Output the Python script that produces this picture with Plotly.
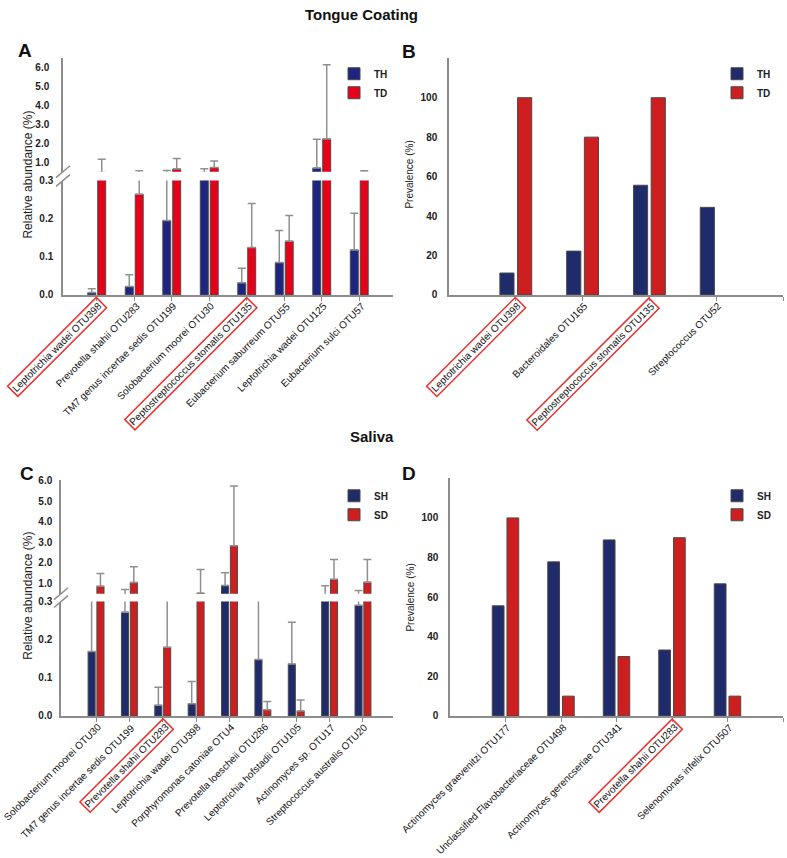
import plotly.graph_objects as go

W, H = 787, 858
FONT = "Liberation Sans, Arial, sans-serif"

# ---- A: tongue coating, relative abundance (%) ----
tongue_abund_otus = [
    "Leptotrichia wadei OTU398", "Prevotella shahii OTU283", "TM7 genus incertae sedis OTU199",
    "Solobacterium moorei OTU30", "Peptostreptococcus stomatis OTU135", "Eubacterium saburreum OTU55",
    "Leptotrichia wadei OTU125", "Eubacterium sulci OTU57",
]
th_abund = [0.006, 0.022, 0.195, 0.45, 0.032, 0.085, 0.69, 0.118]
th_abund_err = [0.010, 0.031, 0.36, 0.20, 0.038, 0.084, 1.53, 0.096]
td_abund = [0.45, 0.264, 0.64, 0.72, 0.124, 0.141, 2.23, 0.45]
td_abund_err = [0.70, 0.29, 0.56, 0.35, 0.116, 0.067, 3.92, 0.10]
tongue_abund_marked = [0, 4]

# ---- B: tongue coating, prevalence (%) ----
tongue_prev_otus = ["Leptotrichia wadei OTU398", "Bacteroidales OTU165",
                    "Peptostreptococcus stomatis OTU135", "Streptococcus OTU52"]
th_prev = [11.1, 22.2, 55.6, 44.4]
td_prev = [100, 80, 100, 0]
tongue_prev_marked = [0, 2]

# ---- C: saliva, relative abundance (%) ----
saliva_abund_otus = [
    "Solobacterium moorei OTU30", "TM7 genus incertae sedis OTU199", "Prevotella shahii OTU283",
    "Leptotrichia wadei OTU398", "Porphyromonas catoniae OTU4", "Prevotella loescheii OTU286",
    "Leptotrichia hofstadii OTU105", "Actinomyces sp. OTU17", "Streptococcus australis OTU20",
]
sh_abund = [0.169, 0.272, 0.028, 0.032, 0.90, 0.148, 0.136, 0.45, 0.29]
sh_abund_err = [0.23, 0.43, 0.047, 0.058, 0.62, 0.25, 0.11, 0.44, 0.36]
sd_abund = [0.86, 1.05, 0.18, 0.52, 2.84, 0.016, 0.013, 1.20, 1.06]
sd_abund_err = [0.62, 0.76, 0.22, 1.16, 2.91, 0.022, 0.029, 0.97, 1.11]
saliva_abund_marked = [2]

# ---- D: saliva, prevalence (%) ----
saliva_prev_otus = ["Actinomyces graevenitzi OTU177", "Unclassified Flavobacteriaceae OTU498",
                    "Actinomyces gerencseriae OTU341", "Prevotella shahii OTU283",
                    "Selenomonas infelix OTU507"]
sh_prev = [55.6, 77.8, 88.9, 33.3, 66.7]
sd_prev = [100, 10, 30, 90, 10]
saliva_prev_marked = [3]

low_ticks = [0, 0.1, 0.2, 0.3]
up_ticks = [1, 2, 3, 4, 5, 6]
prev_ticks = [0, 20, 40, 60, 80, 100]


def px(p):
    return p / W


def py(p):
    return 1 - p / H


AXIS_GREY = "#8c8c8c"
ERR_GREY = "#8f8f8f"
OUTLINE = "#4a4a4a"
A_BLUE, A_RED = "#1d2580", "#e60018"
NAVY, RED = "#1f2b6b", "#cd1f1f"


def bar(x, y, err, name, color, xa, ya, legend, show):
    kw = dict(
        x=list(range(len(x))), y=y, name=name, marker_color=color,
        # no outline on empty bars
        marker_line=dict(color=OUTLINE, width=[1 if v else 0 for v in y]),
        xaxis=xa, yaxis=ya, legend=legend, showlegend=show, hoverinfo="skip",
    )
    if err is not None:
        kw["error_y"] = dict(type="data", symmetric=False, array=err, arrayminus=[0] * len(err),
                             color=ERR_GREY, thickness=1.5, width=4)
    return go.Bar(**kw)


fig = go.Figure()
# A (lower + upper segments)
for ya, show in (("y", True), ("y2", False)):
    fig.add_trace(bar(tongue_abund_otus, th_abund, th_abund_err, "TH", A_BLUE, "x", ya, "legend", show))
    fig.add_trace(bar(tongue_abund_otus, td_abund, td_abund_err, "TD", A_RED, "x", ya, "legend", show))
# B
fig.add_trace(bar(tongue_prev_otus, th_prev, None, "TH", NAVY, "x2", "y3", "legend2", True))
fig.add_trace(bar(tongue_prev_otus, td_prev, None, "TD", RED, "x2", "y3", "legend2", True))
# C
for ya, show in (("y4", True), ("y5", False)):
    fig.add_trace(bar(saliva_abund_otus, sh_abund, sh_abund_err, "SH", NAVY, "x3", ya, "legend3", show))
    fig.add_trace(bar(saliva_abund_otus, sd_abund, sd_abund_err, "SD", RED, "x3", ya, "legend3", show))
# D
fig.add_trace(bar(saliva_prev_otus, sh_prev, None, "SH", NAVY, "x4", "y6", "legend4", True))
fig.add_trace(bar(saliva_prev_otus, sd_prev, None, "SD", RED, "x4", "y6", "legend4", True))

tick_font = dict(family=FONT, size=10, color="#222", weight="bold")


def xax(left, right, rng, anchor):
    return dict(domain=[px(left), px(right)], range=rng, anchor=anchor, showline=True,
                linecolor=AXIS_GREY, linewidth=1.5, ticks="outside", ticklen=4, tickwidth=1.2,
                tickcolor=AXIS_GREY, tickvals=list(range(12)), showticklabels=False,
                showgrid=False, zeroline=False, fixedrange=True)


def yax(bottom, top, rng, anchor, vals, text, standoff):
    return dict(domain=[py(bottom), py(top)], range=rng, anchor=anchor, showline=True,
                linecolor=AXIS_GREY, linewidth=1.5, ticks="", tickvals=vals, ticktext=text,
                tickfont=tick_font, ticklabelstandoff=standoff,
                showgrid=False, zeroline=False, fixedrange=True)


fig.update_layout(
    xaxis=xax(63, 393, [-0.9, 7.9], "y"),
    yaxis=yax(293, 177, [0, 0.3], "x", low_ticks, [f"{v:.1f}" for v in low_ticks], 6),
    yaxis2=yax(168, 53, [0.5, 6.5], "x", up_ticks, [f"{v:.1f}" for v in up_ticks], 10),
    xaxis2=xax(449, 783, [-1, 4], "y3"),
    yaxis3=yax(293, 53, [0, 120], "x2", prev_ticks, [str(v) for v in prev_ticks], 8),
    xaxis3=xax(61, 393, [-1.05, 8.9], "y4"),
    yaxis4=yax(720, 604, [0, 0.3], "x3", low_ticks, [f"{v:.1f}" for v in low_ticks], 5),
    yaxis5=yax(596, 481, [0.5, 6.03], "x3", up_ticks, [f"{v:.1f}" for v in up_ticks], 5),
    xaxis4=xax(450, 783, [-1, 5], "y6"),
    yaxis6=yax(720, 479, [0, 120], "x4", prev_ticks, [str(v) for v in prev_ticks], 8),
)

legend_style = dict(xanchor="left", yanchor="top", bgcolor="rgba(0,0,0,0)", itemwidth=30,
                    font=dict(family=FONT, size=10, color="#222", weight="bold"), tracegroupgap=0)
fig.update_layout(
    legend=dict(x=px(334), y=py(54), **legend_style),
    legend2=dict(x=px(717), y=py(54), **legend_style),
    legend3=dict(x=px(334), y=py(482), **legend_style),
    legend4=dict(x=px(717), y=py(482), **legend_style),
)

annotations = []


def add_labels(names, marked, xref, axis_bottom):
    for i, name in enumerate(names):
        annotations.append(dict(
            text=name, x=i, xref=xref, y=py(axis_bottom), yref="paper",
            xanchor="right", yanchor="top", textangle=-45, showarrow=False,
            xshift=11, yshift=-2, borderpad=1, borderwidth=1.5,
            bordercolor="#e8312f" if i in marked else "rgba(0,0,0,0)",
            font=dict(family=FONT, size=10, color="#111"),
        ))


add_labels(tongue_abund_otus, tongue_abund_marked, "x", 293)
add_labels(tongue_prev_otus, tongue_prev_marked, "x2", 293)
add_labels(saliva_abund_otus, saliva_abund_marked, "x3", 720)
add_labels(saliva_prev_otus, saliva_prev_marked, "x4", 720)

# section titles, panel letters, axis titles
for text, x, y, size in (("Tongue Coating", 361, 9, 15), ("Saliva", 372, 437, 15),
                         ("A", 25, 45, 19), ("B", 409, 46, 19), ("C", 27, 474, 19), ("D", 409, 474, 19)):
    annotations.append(dict(text=text, x=px(x), y=py(y), xref="paper", yref="paper",
                            showarrow=False, xanchor="center", yanchor="middle",
                            font=dict(family=FONT, size=size, color="#111", weight="bold")))
for text, x, y, size in (("Relative abundance (%)", 28, 171, 12), ("Prevalence (%)", 410, 171, 10),
                         ("Relative abundance (%)", 28, 598, 12), ("Prevalence (%)", 411, 600, 10)):
    annotations.append(dict(text=text, x=px(x), y=py(y), xref="paper", yref="paper",
                            showarrow=False, textangle=-90, xanchor="center", yanchor="middle",
                            font=dict(family=FONT, size=size, color="#222")))
fig.update_layout(annotations=annotations)

# axis break marks
shapes = []
for ax_x, gap_lo, gap_hi in ((63, 177, 168), (61, 604, 596)):
    for yc in (gap_lo, gap_hi):
        shapes.append(dict(type="line", xref="paper", yref="paper",
                           x0=px(ax_x - 7), y0=py(yc + 6), x1=px(ax_x + 7), y1=py(yc - 6),
                           line=dict(color=AXIS_GREY, width=1.5)))
fig.update_layout(shapes=shapes)

fig.update_layout(
    width=W, height=H, autosize=False, margin=dict(l=0, r=0, t=0, b=0),
    paper_bgcolor="white", plot_bgcolor="white", barmode="group",
    bargap=0.47, bargroupgap=0.2, font=dict(family=FONT),
)

fig.write_html("out.html", config={"displayModeBar": False},
               post_script="document.body.style.margin='0';document.body.style.overflow='hidden';")
